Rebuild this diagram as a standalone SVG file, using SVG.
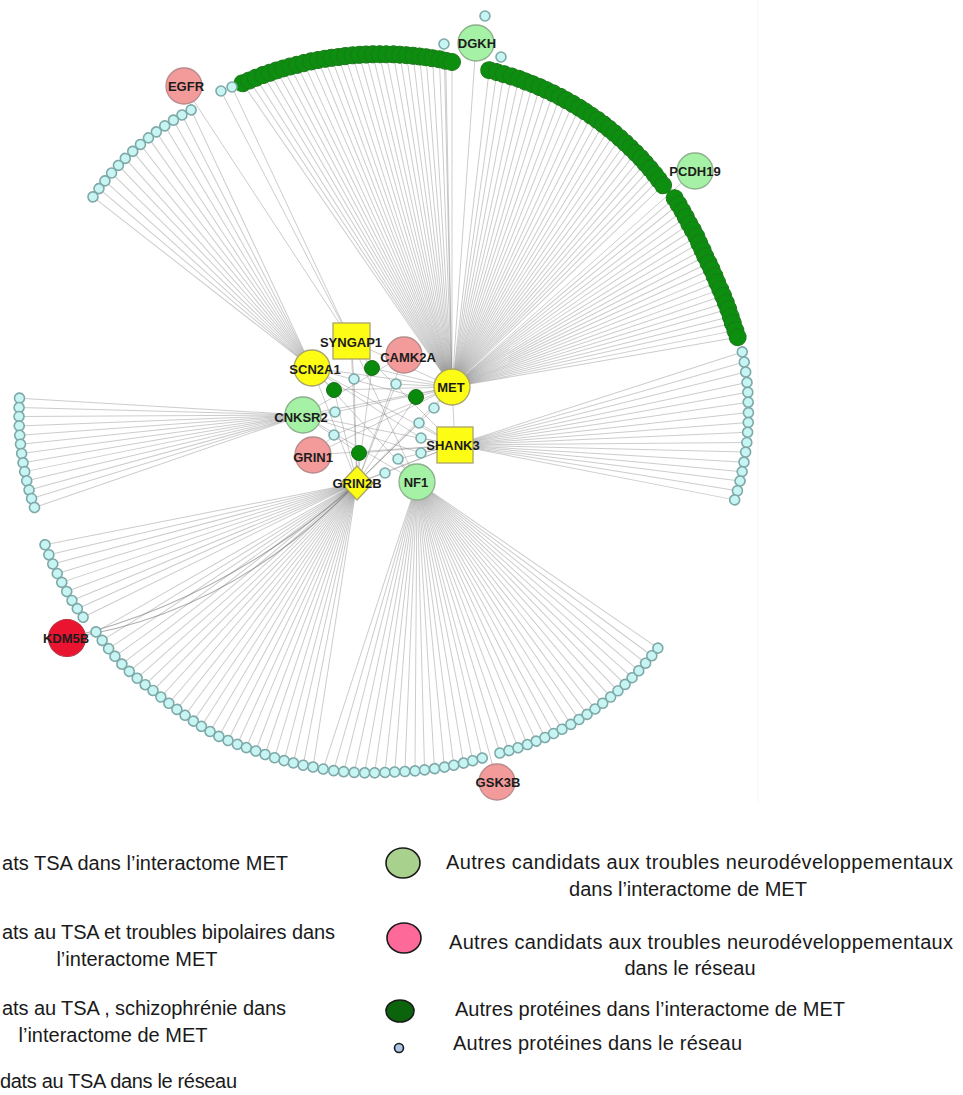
<svg xmlns="http://www.w3.org/2000/svg" width="963" height="1095" viewBox="0 0 963 1095">
<defs>
<style>
.e{stroke:#7a7a7a;stroke-opacity:.38;stroke-width:1;fill:none}
.ek{stroke:#6a6a6a;stroke-opacity:.55;stroke-width:1.2;fill:none}
.cy{fill:#c6f5f3;stroke:#7fa9a8;stroke-width:1.6}
.gr{fill:#0c8e0e;stroke:#1d7a1d;stroke-width:1}
.dg{fill:#0a8a0a;stroke:#1a6e1a;stroke-width:1}
.yel{fill:#fcfc14;stroke:#a9a46a;stroke-width:1.3}
.pk{fill:#f39b9b;stroke:#b98a8a;stroke-width:1.3}
.lg{fill:#a5f1a5;stroke:#8cb08c;stroke-width:1.3}
.red{fill:#ea1330;stroke:#b8323e;stroke-width:1.2}
.lbl{font-family:"Liberation Sans",Arial,sans-serif;font-weight:bold;font-size:13px;fill:#1c1c1c;text-anchor:middle}
.leg{font-family:"Liberation Sans",Arial,sans-serif;font-size:20px;fill:#1a1a1a}
.mid{text-anchor:middle}
.ls{stroke:#1a1a1a;stroke-width:1.6}
</style>
<circle id="cn" r="5" class="cy"/>
<circle id="gn" r="8.5" class="gr"/>
</defs>
<rect width="963" height="1095" fill="#fff"/>
<path d="M758 0 V802" fill="none" stroke="#f4f4f4" stroke-width="1"/>

<g id="connectors">
 <g class="e" transform="translate(452 387)">
  <line x2="369" transform="rotate(-124.6)"/><line x2="367.6" transform="rotate(-123.5)"/><line x2="366.2" transform="rotate(-122.4)"/><line x2="364.7" transform="rotate(-121.2)"/><line x2="363.3" transform="rotate(-120.1)"/><line x2="361.9" transform="rotate(-119)"/><line x2="360.5" transform="rotate(-117.9)"/><line x2="359.1" transform="rotate(-116.8)"/><line x2="357.6" transform="rotate(-115.7)"/><line x2="356.2" transform="rotate(-114.6)"/><line x2="354.8" transform="rotate(-113.4)"/><line x2="353.4" transform="rotate(-112.3)"/><line x2="352" transform="rotate(-111.2)"/><line x2="350.6" transform="rotate(-110.1)"/><line x2="349.1" transform="rotate(-109)"/><line x2="347.7" transform="rotate(-107.9)"/><line x2="346.3" transform="rotate(-106.7)"/><line x2="344.9" transform="rotate(-105.6)"/><line x2="343.5" transform="rotate(-104.5)"/><line x2="342" transform="rotate(-103.4)"/><line x2="340.6" transform="rotate(-102.3)"/><line x2="339.2" transform="rotate(-101.2)"/><line x2="337.8" transform="rotate(-100)"/><line x2="336.4" transform="rotate(-98.9)"/><line x2="334.9" transform="rotate(-97.8)"/><line x2="333.5" transform="rotate(-96.7)"/><line x2="332.1" transform="rotate(-95.6)"/><line x2="330.7" transform="rotate(-94.5)"/><line x2="329.3" transform="rotate(-93.4)"/><line x2="327.9" transform="rotate(-92.2)"/><line x2="326.4" transform="rotate(-91.1)"/><line x2="325" transform="rotate(-90)"/>
  <line x2="319" transform="rotate(-83.3)"/><line x2="318.1" transform="rotate(-81.9)"/><line x2="317.1" transform="rotate(-80.6)"/><line x2="316.2" transform="rotate(-79.2)"/><line x2="315.3" transform="rotate(-77.8)"/><line x2="314.3" transform="rotate(-76.5)"/><line x2="313.4" transform="rotate(-75.1)"/><line x2="312.5" transform="rotate(-73.7)"/><line x2="311.6" transform="rotate(-72.4)"/><line x2="310.6" transform="rotate(-71)"/><line x2="309.7" transform="rotate(-69.6)"/><line x2="308.8" transform="rotate(-68.3)"/><line x2="307.8" transform="rotate(-66.9)"/><line x2="306.9" transform="rotate(-65.5)"/><line x2="306" transform="rotate(-64.2)"/><line x2="305" transform="rotate(-62.8)"/><line x2="304.1" transform="rotate(-61.4)"/><line x2="303.2" transform="rotate(-60.1)"/><line x2="302.2" transform="rotate(-58.7)"/><line x2="301.3" transform="rotate(-57.4)"/><line x2="300.4" transform="rotate(-56)"/><line x2="299.4" transform="rotate(-54.6)"/><line x2="298.5" transform="rotate(-53.3)"/><line x2="297.6" transform="rotate(-51.9)"/><line x2="296.7" transform="rotate(-50.5)"/><line x2="295.7" transform="rotate(-49.2)"/><line x2="294.8" transform="rotate(-47.8)"/><line x2="293.9" transform="rotate(-46.4)"/><line x2="292.9" transform="rotate(-45.1)"/><line x2="292" transform="rotate(-43.7)"/>
  <line x2="292" transform="rotate(-40.3)"/><line x2="291" transform="rotate(-38.9)"/><line x2="290" transform="rotate(-37.4)"/><line x2="289" transform="rotate(-36)"/><line x2="288" transform="rotate(-34.5)"/><line x2="287.5" transform="rotate(-33.1)"/><line x2="287" transform="rotate(-31.6)"/><line x2="286" transform="rotate(-30.2)"/><line x2="285.5" transform="rotate(-28.7)"/><line x2="285" transform="rotate(-27.3)"/><line x2="285" transform="rotate(-25.8)"/><line x2="285" transform="rotate(-24.4)"/><line x2="285" transform="rotate(-22.9)"/><line x2="285" transform="rotate(-21.5)"/><line x2="285.5" transform="rotate(-20)"/><line x2="286" transform="rotate(-18.6)"/><line x2="286.5" transform="rotate(-17.1)"/><line x2="287" transform="rotate(-15.7)"/><line x2="287.5" transform="rotate(-14.2)"/><line x2="288" transform="rotate(-12.8)"/><line x2="289" transform="rotate(-11.3)"/><line x2="290" transform="rotate(-9.9)"/>
 </g>
 <g class="e" transform="translate(312 368)">
  <line x2="285" transform="rotate(-115.1)"/><line x2="284.5" transform="rotate(-117.2)"/><line x2="283.9" transform="rotate(-119.2)"/><line x2="283.4" transform="rotate(-121.3)"/><line x2="282.8" transform="rotate(-123.4)"/><line x2="282.3" transform="rotate(-125.4)"/><line x2="281.8" transform="rotate(-127.5)"/><line x2="281.2" transform="rotate(-129.6)"/><line x2="280.7" transform="rotate(-131.7)"/><line x2="280.2" transform="rotate(-133.7)"/><line x2="279.6" transform="rotate(-135.8)"/><line x2="279.1" transform="rotate(-137.9)"/><line x2="278.5" transform="rotate(-139.9)"/><line x2="278" transform="rotate(-142)"/>
 </g>
 <g class="e" transform="translate(455 445)">
  <line x2="302" transform="rotate(-17.95)"/><line x2="300.9" transform="rotate(-16)"/><line x2="299.7" transform="rotate(-14.1)"/><line x2="298.6" transform="rotate(-12.1)"/><line x2="297.5" transform="rotate(-10.2)"/><line x2="296.3" transform="rotate(-8.3)"/><line x2="295.2" transform="rotate(-6.3)"/><line x2="294.1" transform="rotate(-4.4)"/><line x2="292.9" transform="rotate(-2.5)"/><line x2="291.8" transform="rotate(-0.5)"/><line x2="290.7" transform="rotate(1.4)"/><line x2="289.5" transform="rotate(3.4)"/><line x2="288.4" transform="rotate(5.3)"/><line x2="287.3" transform="rotate(7.2)"/><line x2="286.1" transform="rotate(9.2)"/><line x2="285" transform="rotate(11.1)"/>
 </g>
 <g class="e" transform="translate(303 415)">
  <line x2="284" transform="rotate(183.4)"/><line x2="284" transform="rotate(181.5)"/><line x2="284" transform="rotate(179.7)"/><line x2="284" transform="rotate(177.8)"/><line x2="284" transform="rotate(175.9)"/><line x2="284" transform="rotate(174.1)"/><line x2="284" transform="rotate(172.2)"/><line x2="284" transform="rotate(170.3)"/><line x2="284" transform="rotate(168.5)"/><line x2="284" transform="rotate(166.6)"/><line x2="284" transform="rotate(164.7)"/><line x2="284" transform="rotate(162.9)"/><line x2="284" transform="rotate(161)"/>
 </g>
 <g class="e" transform="translate(357 483)">
  <line x2="318" transform="rotate(168.8)"/><line x2="316.4" transform="rotate(166.9)"/><line x2="314.8" transform="rotate(165.1)"/><line x2="313.1" transform="rotate(163.2)"/><line x2="311.5" transform="rotate(161.4)"/><line x2="309.9" transform="rotate(159.5)"/><line x2="308.3" transform="rotate(157.6)"/><line x2="306.6" transform="rotate(155.8)"/><line x2="305" transform="rotate(153.9)"/>
  <line x2="300.5" transform="rotate(150.3)"/><line x2="299.5" transform="rotate(148.3)"/><line x2="298.6" transform="rotate(146.3)"/><line x2="297.7" transform="rotate(144.4)"/><line x2="296.8" transform="rotate(142.4)"/><line x2="295.5" transform="rotate(140.4)"/><line x2="294" transform="rotate(138.4)"/><line x2="292.5" transform="rotate(136.4)"/><line x2="291" transform="rotate(134.5)"/><line x2="290.3" transform="rotate(132.5)"/><line x2="289.7" transform="rotate(130.5)"/><line x2="289.3" transform="rotate(128.5)"/><line x2="289" transform="rotate(126.5)"/><line x2="288.9" transform="rotate(124.5)"/><line x2="288.8" transform="rotate(122.6)"/><line x2="288.7" transform="rotate(120.6)"/><line x2="288.6" transform="rotate(118.6)"/><line x2="288" transform="rotate(116.6)"/><line x2="287.4" transform="rotate(114.6)"/><line x2="286.8" transform="rotate(112.7)"/><line x2="286.5" transform="rotate(110.7)"/><line x2="286.6" transform="rotate(108.7)"/><line x2="286.8" transform="rotate(106.7)"/><line x2="287" transform="rotate(104.7)"/><line x2="287.1" transform="rotate(102.8)"/><line x2="287.3" transform="rotate(100.8)"/><line x2="287.4" transform="rotate(98.8)"/>
 </g>
 <g class="e" transform="translate(417 482)">
  <line x2="302" transform="rotate(108.1)"/><line x2="300.4" transform="rotate(106.1)"/><line x2="298.8" transform="rotate(104.2)"/><line x2="297.1" transform="rotate(102.2)"/><line x2="295.5" transform="rotate(100.2)"/><line x2="293.9" transform="rotate(98.3)"/><line x2="292.2" transform="rotate(96.3)"/><line x2="290.8" transform="rotate(94.4)"/><line x2="289.8" transform="rotate(92.4)"/><line x2="288.9" transform="rotate(90.4)"/><line x2="288" transform="rotate(88.5)"/><line x2="287.2" transform="rotate(86.5)"/><line x2="286.4" transform="rotate(84.5)"/><line x2="285.6" transform="rotate(82.6)"/><line x2="284.9" transform="rotate(80.6)"/><line x2="284.2" transform="rotate(78.7)"/><line x2="283.6" transform="rotate(76.7)"/>
  <line x2="283.4" transform="rotate(73)"/><line x2="283.9" transform="rotate(71.1)"/><line x2="284.3" transform="rotate(69.2)"/><line x2="284.8" transform="rotate(67.2)"/><line x2="285.2" transform="rotate(65.3)"/><line x2="285.7" transform="rotate(63.4)"/><line x2="286.2" transform="rotate(61.5)"/><line x2="286.6" transform="rotate(59.6)"/><line x2="287.1" transform="rotate(57.6)"/><line x2="287.5" transform="rotate(55.7)"/><line x2="288" transform="rotate(53.8)"/><line x2="288.5" transform="rotate(51.9)"/><line x2="288.9" transform="rotate(50)"/><line x2="289.4" transform="rotate(48)"/><line x2="289.8" transform="rotate(46.1)"/><line x2="290.3" transform="rotate(44.2)"/><line x2="290.8" transform="rotate(42.3)"/><line x2="291.2" transform="rotate(40.4)"/><line x2="291.7" transform="rotate(38.4)"/><line x2="292.1" transform="rotate(36.5)"/><line x2="292.6" transform="rotate(34.6)"/>
 </g>
 <g class="e">
  <line x1="184" y1="86" x2="351" y2="341"/>
  <line x1="221" y1="91" x2="351" y2="341"/>
  <line x1="232" y1="87" x2="351" y2="341"/>
  <line x1="476" y1="43" x2="452" y2="387"/>
  <line x1="444" y1="44" x2="452" y2="387"/>
  <line x1="695" y1="171" x2="452" y2="387"/>
  <line x1="497" y1="782" x2="417" y2="482"/>
 </g>
 <g class="ek">
  <path d="M67 638 Q230 615 357 483"/>
  <path d="M67 638 Q225 600 357 483"/>
 </g>
 <g class="e" stroke-width="1.1">
  <line x1="312" y1="368" x2="452" y2="387"/><line x1="351" y1="341" x2="452" y2="387"/><line x1="303" y1="415" x2="452" y2="387"/>
  <line x1="303" y1="415" x2="455" y2="445"/><line x1="313" y1="455" x2="455" y2="445"/><line x1="313" y1="455" x2="452" y2="387"/>
  <line x1="357" y1="483" x2="351" y2="341"/><line x1="357" y1="483" x2="404" y2="355"/><line x1="357" y1="483" x2="452" y2="387"/>
  <line x1="357" y1="483" x2="455" y2="445"/><line x1="357" y1="483" x2="312" y2="368"/><line x1="417" y1="482" x2="312" y2="368"/>
  <line x1="417" y1="482" x2="351" y2="341"/><line x1="417" y1="482" x2="303" y2="415"/><line x1="312" y1="368" x2="455" y2="445"/>
  <line x1="351" y1="341" x2="455" y2="445"/><line x1="452" y1="387" x2="455" y2="445"/><line x1="404" y1="355" x2="303" y2="415"/>
  <line x1="372" y1="368" x2="351" y2="341"/><line x1="372" y1="368" x2="357" y2="483"/><line x1="372" y1="368" x2="452" y2="387"/>
  <line x1="334" y1="390" x2="312" y2="368"/><line x1="334" y1="390" x2="452" y2="387"/><line x1="334" y1="390" x2="357" y2="483"/>
  <line x1="416" y1="397" x2="452" y2="387"/><line x1="416" y1="397" x2="357" y2="483"/><line x1="416" y1="397" x2="312" y2="368"/>
  <line x1="359" y1="453" x2="357" y2="483"/><line x1="359" y1="453" x2="303" y2="415"/><line x1="359" y1="453" x2="455" y2="445"/>
  <line x1="354" y1="379" x2="351" y2="341"/><line x1="354" y1="379" x2="357" y2="483"/><line x1="396" y1="384" x2="452" y2="387"/>
  <line x1="396" y1="384" x2="357" y2="483"/><line x1="335" y1="412" x2="303" y2="415"/><line x1="335" y1="412" x2="452" y2="387"/>
  <line x1="334" y1="435" x2="313" y2="455"/><line x1="334" y1="435" x2="452" y2="387"/><line x1="434" y1="408" x2="452" y2="387"/>
  <line x1="434" y1="408" x2="357" y2="483"/><line x1="419" y1="423" x2="455" y2="445"/><line x1="419" y1="423" x2="357" y2="483"/>
  <line x1="421" y1="438" x2="455" y2="445"/><line x1="421" y1="438" x2="312" y2="368"/><line x1="421" y1="453" x2="455" y2="445"/>
  <line x1="421" y1="453" x2="303" y2="415"/><line x1="398" y1="459" x2="417" y2="482"/><line x1="398" y1="459" x2="455" y2="445"/>
  <line x1="385" y1="473" x2="357" y2="483"/><line x1="385" y1="473" x2="455" y2="445"/>
 </g>
</g>

<g id="met-arc-top" transform="translate(452 387)">
 <use id="mt00" href="#gn" x="369" transform="rotate(-124.6)"/><use id="mt01" href="#gn" x="367.6" transform="rotate(-123.5)"/><use id="mt02" href="#gn" x="366.2" transform="rotate(-122.4)"/><use id="mt03" href="#gn" x="364.7" transform="rotate(-121.2)"/><use id="mt04" href="#gn" x="363.3" transform="rotate(-120.1)"/><use id="mt05" href="#gn" x="361.9" transform="rotate(-119)"/><use id="mt06" href="#gn" x="360.5" transform="rotate(-117.9)"/><use id="mt07" href="#gn" x="359.1" transform="rotate(-116.8)"/><use id="mt08" href="#gn" x="357.6" transform="rotate(-115.7)"/><use id="mt09" href="#gn" x="356.2" transform="rotate(-114.6)"/><use id="mt10" href="#gn" x="354.8" transform="rotate(-113.4)"/><use id="mt11" href="#gn" x="353.4" transform="rotate(-112.3)"/><use id="mt12" href="#gn" x="352" transform="rotate(-111.2)"/><use id="mt13" href="#gn" x="350.6" transform="rotate(-110.1)"/><use id="mt14" href="#gn" x="349.1" transform="rotate(-109)"/><use id="mt15" href="#gn" x="347.7" transform="rotate(-107.9)"/><use id="mt16" href="#gn" x="346.3" transform="rotate(-106.7)"/><use id="mt17" href="#gn" x="344.9" transform="rotate(-105.6)"/><use id="mt18" href="#gn" x="343.5" transform="rotate(-104.5)"/><use id="mt19" href="#gn" x="342" transform="rotate(-103.4)"/><use id="mt20" href="#gn" x="340.6" transform="rotate(-102.3)"/><use id="mt21" href="#gn" x="339.2" transform="rotate(-101.2)"/><use id="mt22" href="#gn" x="337.8" transform="rotate(-100)"/><use id="mt23" href="#gn" x="336.4" transform="rotate(-98.9)"/><use id="mt24" href="#gn" x="334.9" transform="rotate(-97.8)"/><use id="mt25" href="#gn" x="333.5" transform="rotate(-96.7)"/><use id="mt26" href="#gn" x="332.1" transform="rotate(-95.6)"/><use id="mt27" href="#gn" x="330.7" transform="rotate(-94.5)"/><use id="mt28" href="#gn" x="329.3" transform="rotate(-93.4)"/><use id="mt29" href="#gn" x="327.9" transform="rotate(-92.2)"/><use id="mt30" href="#gn" x="326.4" transform="rotate(-91.1)"/><use id="mt31" href="#gn" x="325" transform="rotate(-90)"/>
</g>
<g id="met-arc-right" transform="translate(452 387)">
 <use id="mr00" href="#gn" x="319" transform="rotate(-83.3)"/><use id="mr01" href="#gn" x="318.1" transform="rotate(-81.9)"/><use id="mr02" href="#gn" x="317.1" transform="rotate(-80.6)"/><use id="mr03" href="#gn" x="316.2" transform="rotate(-79.2)"/><use id="mr04" href="#gn" x="315.3" transform="rotate(-77.8)"/><use id="mr05" href="#gn" x="314.3" transform="rotate(-76.5)"/><use id="mr06" href="#gn" x="313.4" transform="rotate(-75.1)"/><use id="mr07" href="#gn" x="312.5" transform="rotate(-73.7)"/><use id="mr08" href="#gn" x="311.6" transform="rotate(-72.4)"/><use id="mr09" href="#gn" x="310.6" transform="rotate(-71)"/><use id="mr10" href="#gn" x="309.7" transform="rotate(-69.6)"/><use id="mr11" href="#gn" x="308.8" transform="rotate(-68.3)"/><use id="mr12" href="#gn" x="307.8" transform="rotate(-66.9)"/><use id="mr13" href="#gn" x="306.9" transform="rotate(-65.5)"/><use id="mr14" href="#gn" x="306" transform="rotate(-64.2)"/><use id="mr15" href="#gn" x="305" transform="rotate(-62.8)"/><use id="mr16" href="#gn" x="304.1" transform="rotate(-61.4)"/><use id="mr17" href="#gn" x="303.2" transform="rotate(-60.1)"/><use id="mr18" href="#gn" x="302.2" transform="rotate(-58.7)"/><use id="mr19" href="#gn" x="301.3" transform="rotate(-57.4)"/><use id="mr20" href="#gn" x="300.4" transform="rotate(-56)"/><use id="mr21" href="#gn" x="299.4" transform="rotate(-54.6)"/><use id="mr22" href="#gn" x="298.5" transform="rotate(-53.3)"/><use id="mr23" href="#gn" x="297.6" transform="rotate(-51.9)"/><use id="mr24" href="#gn" x="296.7" transform="rotate(-50.5)"/><use id="mr25" href="#gn" x="295.7" transform="rotate(-49.2)"/><use id="mr26" href="#gn" x="294.8" transform="rotate(-47.8)"/><use id="mr27" href="#gn" x="293.9" transform="rotate(-46.4)"/><use id="mr28" href="#gn" x="292.9" transform="rotate(-45.1)"/><use id="mr29" href="#gn" x="292" transform="rotate(-43.7)"/>
 <use id="ms00" href="#gn" x="292" transform="rotate(-40.3)"/><use id="ms01" href="#gn" x="291" transform="rotate(-38.9)"/><use id="ms02" href="#gn" x="290" transform="rotate(-37.4)"/><use id="ms03" href="#gn" x="289" transform="rotate(-36)"/><use id="ms04" href="#gn" x="288" transform="rotate(-34.5)"/><use id="ms05" href="#gn" x="287.5" transform="rotate(-33.1)"/><use id="ms06" href="#gn" x="287" transform="rotate(-31.6)"/><use id="ms07" href="#gn" x="286" transform="rotate(-30.2)"/><use id="ms08" href="#gn" x="285.5" transform="rotate(-28.7)"/><use id="ms09" href="#gn" x="285" transform="rotate(-27.3)"/><use id="ms10" href="#gn" x="285" transform="rotate(-25.8)"/><use id="ms11" href="#gn" x="285" transform="rotate(-24.4)"/><use id="ms12" href="#gn" x="285" transform="rotate(-22.9)"/><use id="ms13" href="#gn" x="285" transform="rotate(-21.5)"/><use id="ms14" href="#gn" x="285.5" transform="rotate(-20)"/><use id="ms15" href="#gn" x="286" transform="rotate(-18.6)"/><use id="ms16" href="#gn" x="286.5" transform="rotate(-17.1)"/><use id="ms17" href="#gn" x="287" transform="rotate(-15.7)"/><use id="ms18" href="#gn" x="287.5" transform="rotate(-14.2)"/><use id="ms19" href="#gn" x="288" transform="rotate(-12.8)"/><use id="ms20" href="#gn" x="289" transform="rotate(-11.3)"/><use id="ms21" href="#gn" x="290" transform="rotate(-9.9)"/>
</g>
<g id="scn2a1-arc" transform="translate(312 368)">
 <use id="sc00" href="#cn" x="285" transform="rotate(-115.1)"/><use id="sc01" href="#cn" x="284.5" transform="rotate(-117.2)"/><use id="sc02" href="#cn" x="283.9" transform="rotate(-119.2)"/><use id="sc03" href="#cn" x="283.4" transform="rotate(-121.3)"/><use id="sc04" href="#cn" x="282.8" transform="rotate(-123.4)"/><use id="sc05" href="#cn" x="282.3" transform="rotate(-125.4)"/><use id="sc06" href="#cn" x="281.8" transform="rotate(-127.5)"/><use id="sc07" href="#cn" x="281.2" transform="rotate(-129.6)"/><use id="sc08" href="#cn" x="280.7" transform="rotate(-131.7)"/><use id="sc09" href="#cn" x="280.2" transform="rotate(-133.7)"/><use id="sc10" href="#cn" x="279.6" transform="rotate(-135.8)"/><use id="sc11" href="#cn" x="279.1" transform="rotate(-137.9)"/><use id="sc12" href="#cn" x="278.5" transform="rotate(-139.9)"/><use id="sc13" href="#cn" x="278" transform="rotate(-142)"/>
</g>
<g id="shank3-arc" transform="translate(455 445)">
 <use id="sh00" href="#cn" x="302" transform="rotate(-17.95)"/><use id="sh01" href="#cn" x="300.9" transform="rotate(-16)"/><use id="sh02" href="#cn" x="299.7" transform="rotate(-14.1)"/><use id="sh03" href="#cn" x="298.6" transform="rotate(-12.1)"/><use id="sh04" href="#cn" x="297.5" transform="rotate(-10.2)"/><use id="sh05" href="#cn" x="296.3" transform="rotate(-8.3)"/><use id="sh06" href="#cn" x="295.2" transform="rotate(-6.3)"/><use id="sh07" href="#cn" x="294.1" transform="rotate(-4.4)"/><use id="sh08" href="#cn" x="292.9" transform="rotate(-2.5)"/><use id="sh09" href="#cn" x="291.8" transform="rotate(-0.5)"/><use id="sh10" href="#cn" x="290.7" transform="rotate(1.4)"/><use id="sh11" href="#cn" x="289.5" transform="rotate(3.4)"/><use id="sh12" href="#cn" x="288.4" transform="rotate(5.3)"/><use id="sh13" href="#cn" x="287.3" transform="rotate(7.2)"/><use id="sh14" href="#cn" x="286.1" transform="rotate(9.2)"/><use id="sh15" href="#cn" x="285" transform="rotate(11.1)"/>
</g>
<g id="cnksr2-arc" transform="translate(303 415)">
 <use id="ck00" href="#cn" x="284" transform="rotate(183.4)"/><use id="ck01" href="#cn" x="284" transform="rotate(181.5)"/><use id="ck02" href="#cn" x="284" transform="rotate(179.7)"/><use id="ck03" href="#cn" x="284" transform="rotate(177.8)"/><use id="ck04" href="#cn" x="284" transform="rotate(175.9)"/><use id="ck05" href="#cn" x="284" transform="rotate(174.1)"/><use id="ck06" href="#cn" x="284" transform="rotate(172.2)"/><use id="ck07" href="#cn" x="284" transform="rotate(170.3)"/><use id="ck08" href="#cn" x="284" transform="rotate(168.5)"/><use id="ck09" href="#cn" x="284" transform="rotate(166.6)"/><use id="ck10" href="#cn" x="284" transform="rotate(164.7)"/><use id="ck11" href="#cn" x="284" transform="rotate(162.9)"/><use id="ck12" href="#cn" x="284" transform="rotate(161)"/>
</g>
<g id="grin2b-arc" transform="translate(357 483)">
 <use id="gb00" href="#cn" x="318" transform="rotate(168.8)"/><use id="gb01" href="#cn" x="316.4" transform="rotate(166.9)"/><use id="gb02" href="#cn" x="314.8" transform="rotate(165.1)"/><use id="gb03" href="#cn" x="313.1" transform="rotate(163.2)"/><use id="gb04" href="#cn" x="311.5" transform="rotate(161.4)"/><use id="gb05" href="#cn" x="309.9" transform="rotate(159.5)"/><use id="gb06" href="#cn" x="308.3" transform="rotate(157.6)"/><use id="gb07" href="#cn" x="306.6" transform="rotate(155.8)"/><use id="gb08" href="#cn" x="305" transform="rotate(153.9)"/>
 <use id="gc00" href="#cn" x="300.5" transform="rotate(150.3)"/><use id="gc01" href="#cn" x="299.5" transform="rotate(148.3)"/><use id="gc02" href="#cn" x="298.6" transform="rotate(146.3)"/><use id="gc03" href="#cn" x="297.7" transform="rotate(144.4)"/><use id="gc04" href="#cn" x="296.8" transform="rotate(142.4)"/><use id="gc05" href="#cn" x="295.5" transform="rotate(140.4)"/><use id="gc06" href="#cn" x="294" transform="rotate(138.4)"/><use id="gc07" href="#cn" x="292.5" transform="rotate(136.4)"/><use id="gc08" href="#cn" x="291" transform="rotate(134.5)"/><use id="gc09" href="#cn" x="290.3" transform="rotate(132.5)"/><use id="gc10" href="#cn" x="289.7" transform="rotate(130.5)"/><use id="gc11" href="#cn" x="289.3" transform="rotate(128.5)"/><use id="gc12" href="#cn" x="289" transform="rotate(126.5)"/><use id="gc13" href="#cn" x="288.9" transform="rotate(124.5)"/><use id="gc14" href="#cn" x="288.8" transform="rotate(122.6)"/><use id="gc15" href="#cn" x="288.7" transform="rotate(120.6)"/><use id="gc16" href="#cn" x="288.6" transform="rotate(118.6)"/><use id="gc17" href="#cn" x="288" transform="rotate(116.6)"/><use id="gc18" href="#cn" x="287.4" transform="rotate(114.6)"/><use id="gc19" href="#cn" x="286.8" transform="rotate(112.7)"/><use id="gc20" href="#cn" x="286.5" transform="rotate(110.7)"/><use id="gc21" href="#cn" x="286.6" transform="rotate(108.7)"/><use id="gc22" href="#cn" x="286.8" transform="rotate(106.7)"/><use id="gc23" href="#cn" x="287" transform="rotate(104.7)"/><use id="gc24" href="#cn" x="287.1" transform="rotate(102.8)"/><use id="gc25" href="#cn" x="287.3" transform="rotate(100.8)"/><use id="gc26" href="#cn" x="287.4" transform="rotate(98.8)"/>
</g>
<g id="nf1-arc" transform="translate(417 482)">
 <use id="na00" href="#cn" x="302" transform="rotate(108.1)"/><use id="na01" href="#cn" x="300.4" transform="rotate(106.1)"/><use id="na02" href="#cn" x="298.8" transform="rotate(104.2)"/><use id="na03" href="#cn" x="297.1" transform="rotate(102.2)"/><use id="na04" href="#cn" x="295.5" transform="rotate(100.2)"/><use id="na05" href="#cn" x="293.9" transform="rotate(98.3)"/><use id="na06" href="#cn" x="292.2" transform="rotate(96.3)"/><use id="na07" href="#cn" x="290.8" transform="rotate(94.4)"/><use id="na08" href="#cn" x="289.8" transform="rotate(92.4)"/><use id="na09" href="#cn" x="288.9" transform="rotate(90.4)"/><use id="na10" href="#cn" x="288" transform="rotate(88.5)"/><use id="na11" href="#cn" x="287.2" transform="rotate(86.5)"/><use id="na12" href="#cn" x="286.4" transform="rotate(84.5)"/><use id="na13" href="#cn" x="285.6" transform="rotate(82.6)"/><use id="na14" href="#cn" x="284.9" transform="rotate(80.6)"/><use id="na15" href="#cn" x="284.2" transform="rotate(78.7)"/><use id="na16" href="#cn" x="283.6" transform="rotate(76.7)"/>
 <use id="nb00" href="#cn" x="283.4" transform="rotate(73)"/><use id="nb01" href="#cn" x="283.9" transform="rotate(71.1)"/><use id="nb02" href="#cn" x="284.3" transform="rotate(69.2)"/><use id="nb03" href="#cn" x="284.8" transform="rotate(67.2)"/><use id="nb04" href="#cn" x="285.2" transform="rotate(65.3)"/><use id="nb05" href="#cn" x="285.7" transform="rotate(63.4)"/><use id="nb06" href="#cn" x="286.2" transform="rotate(61.5)"/><use id="nb07" href="#cn" x="286.6" transform="rotate(59.6)"/><use id="nb08" href="#cn" x="287.1" transform="rotate(57.6)"/><use id="nb09" href="#cn" x="287.5" transform="rotate(55.7)"/><use id="nb10" href="#cn" x="288" transform="rotate(53.8)"/><use id="nb11" href="#cn" x="288.5" transform="rotate(51.9)"/><use id="nb12" href="#cn" x="288.9" transform="rotate(50)"/><use id="nb13" href="#cn" x="289.4" transform="rotate(48)"/><use id="nb14" href="#cn" x="289.8" transform="rotate(46.1)"/><use id="nb15" href="#cn" x="290.3" transform="rotate(44.2)"/><use id="nb16" href="#cn" x="290.8" transform="rotate(42.3)"/><use id="nb17" href="#cn" x="291.2" transform="rotate(40.4)"/><use id="nb18" href="#cn" x="291.7" transform="rotate(38.4)"/><use id="nb19" href="#cn" x="292.1" transform="rotate(36.5)"/><use id="nb20" href="#cn" x="292.6" transform="rotate(34.6)"/>
</g>
<g id="misc-leaves">
 <use id="x1" href="#cn" x="221" y="91"/><use id="x2" href="#cn" x="232" y="87"/>
 <use id="x3" href="#cn" x="444" y="44"/><use id="x4" href="#cn" x="485" y="16"/><use id="x5" href="#cn" x="501" y="57"/>
</g>
<g id="center-small">
 <circle id="d1" cx="372" cy="368" r="7.5" class="dg"/><circle id="d2" cx="334" cy="390" r="7.5" class="dg"/>
 <circle id="d3" cx="416" cy="397" r="7.5" class="dg"/><circle id="d4" cx="359" cy="453" r="7.5" class="dg"/>
 <use id="c1" href="#cn" x="354" y="379"/><use id="c2" href="#cn" x="396" y="384"/><use id="c3" href="#cn" x="335" y="412"/>
 <use id="c4" href="#cn" x="334" y="435"/><use id="c5" href="#cn" x="434" y="408"/><use id="c6" href="#cn" x="419" y="423"/>
 <use id="c7" href="#cn" x="421" y="438"/><use id="c8" href="#cn" x="421" y="453"/><use id="c9" href="#cn" x="398" y="459"/>
 <use id="c10" href="#cn" x="385" y="473"/>
</g>

<g id="EGFR"><circle cx="184" cy="86" r="18" class="pk"/><text x="186" y="91" class="lbl">EGFR</text></g>
<g id="DGKH"><circle cx="476" cy="43" r="18" class="lg"/><text x="477" y="48" class="lbl">DGKH</text></g>
<g id="PCDH19"><circle cx="695" cy="171" r="18" class="lg"/><text x="695" y="176" class="lbl">PCDH19</text></g>
<g id="KDM5B"><circle cx="67" cy="638" r="18.5" class="red"/><text x="66" y="643" class="lbl">KDM5B</text></g>
<g id="GSK3B"><circle cx="497" cy="782" r="18" class="pk"/><text x="498" y="787" class="lbl">GSK3B</text></g>
<g id="SYNGAP1"><rect x="333" y="323" width="37" height="36" class="yel"/><text x="351" y="347" class="lbl">SYNGAP1</text></g>
<g id="CAMK2A"><circle cx="404" cy="355" r="18" class="pk"/><text x="408" y="362" class="lbl">CAMK2A</text></g>
<g id="SCN2A1"><circle cx="312" cy="368" r="18" class="yel"/><text x="315" y="374" class="lbl">SCN2A1</text></g>
<g id="MET"><circle cx="452" cy="387" r="18" class="yel"/><text x="451" y="392" class="lbl">MET</text></g>
<g id="CNKSR2"><circle cx="303" cy="415" r="18" class="lg"/><text x="301" y="422" class="lbl">CNKSR2</text></g>
<g id="GRIN1"><circle cx="313" cy="455" r="18" class="pk"/><text x="313" y="462" class="lbl">GRIN1</text></g>
<g id="SHANK3"><rect x="437" y="427" width="36" height="36" class="yel"/><text x="453" y="450" class="lbl">SHANK3</text></g>
<g id="NF1"><circle cx="417" cy="482" r="18" class="lg"/><text x="416" y="487" class="lbl">NF1</text></g>
<g id="GRIN2B"><path d="M357 466 L373 483 L357 500 L341 483 Z" class="yel"/><text x="357" y="488" class="lbl">GRIN2B</text></g>

<g id="legend">
 <text class="leg" x="2" y="870" textLength="286">ats TSA dans l’interactome MET</text>
 <text class="leg" x="2" y="939" textLength="333">ats au TSA et troubles bipolaires dans</text>
 <text class="leg mid" x="137" y="966">l’interactome MET</text>
 <text class="leg" x="2" y="1015" textLength="284">ats au TSA , schizophrénie dans</text>
 <text class="leg mid" x="113" y="1042">l’interactome de MET</text>
 <text class="leg" x="0" y="1088" textLength="237">dats au TSA dans le réseau</text>
 <ellipse cx="403" cy="863" rx="17" ry="15" fill="#a9d18e" class="ls"/>
 <text class="leg" x="446" y="869" textLength="507">Autres candidats aux troubles neurodéveloppementaux</text>
 <text class="leg mid" x="688" y="896">dans l’interactome de MET</text>
 <ellipse cx="404" cy="938" rx="17" ry="15" fill="#fd6a9a" class="ls"/>
 <text class="leg" x="449" y="949" textLength="504">Autres candidats aux troubles neurodéveloppementaux</text>
 <text class="leg mid" x="690" y="975">dans le réseau</text>
 <ellipse cx="400" cy="1011" rx="14" ry="11" fill="#0b640b" class="ls"/>
 <text class="leg" x="455" y="1016" textLength="390">Autres protéines dans l’interactome de MET</text>
 <circle cx="399" cy="1048" r="4.5" fill="#a9c6e6" class="ls"/>
 <text class="leg" x="453" y="1050" textLength="289">Autres protéines dans le réseau</text>
</g>
</svg>
